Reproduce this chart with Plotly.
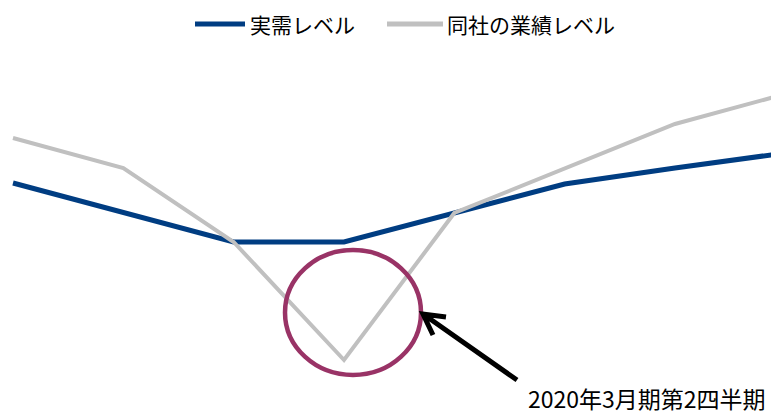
import plotly.graph_objects as go

# Data (arbitrary level units, higher = better)
periods = [0, 1, 2, 3, 4, 5, 6, 7]
demand_level = [231, 202, 172, 172, 201, 230, 246, 261]
company_level = [276, 246, 172, 54, 201, 246, 290, 320]
series_names = ["実需レベル", "同社の業績レベル"]
series_colors = ["#003D82", "#C0C0C0"]
callout_text = "2020年3月期第2四半期"

# page body has an 8px margin, so the figure is 8px smaller and offset
OFF = 8
W, H = 779 - OFF, 414 - OFF
FONT = "Noto Sans CJK JP, Noto Sans, sans-serif"

def px(x):
    return (x - OFF) / W

def py(y):
    return 1 - (y - OFF) / H

fig = go.Figure()
fig.add_trace(go.Scatter(x=periods, y=demand_level, mode="lines", name=series_names[0],
                         line=dict(color=series_colors[0], width=5), showlegend=False))
fig.add_trace(go.Scatter(x=periods, y=company_level, mode="lines", name=series_names[1],
                         line=dict(color=series_colors[1], width=4), showlegend=False))

# legend drawn as line swatches + text
legend_items = [(195, 245, 249), (387, 443, 446)]
for (x0, x1, tx), name, col in zip(legend_items, series_names, series_colors):
    fig.add_shape(type="line", xref="paper", yref="paper",
                  x0=px(x0), x1=px(x1), y0=py(24), y1=py(24),
                  line=dict(color=col, width=5))
    fig.add_annotation(text=name, xref="paper", yref="paper",
                       x=px(tx), y=1.0, xanchor="left", yanchor="top",
                       borderpad=0,
                       showarrow=False, font=dict(family=FONT, size=21, color="black"))

# highlight circle around the trough
fig.add_shape(type="circle", xref="paper", yref="paper",
              x0=px(285), x1=px(421), y0=py(375), y1=py(250),
              line=dict(color="#993366", width=4.5), layer="above")

# arrow: shaft + open chevron head
tip = (423, 314)
tail = (517, 380)
w1 = (446, 317)
w2 = (433, 335)
path = (f"M{px(tail[0])},{py(tail[1])} L{px(tip[0])},{py(tip[1])} "
        f"M{px(w1[0])},{py(w1[1])} L{px(tip[0])},{py(tip[1])} L{px(w2[0])},{py(w2[1])}")
fig.add_shape(type="path", xref="paper", yref="paper", path=path,
              line=dict(color="black", width=5))

fig.add_annotation(text=callout_text, xref="paper", yref="paper",
                   x=px(526), y=py(398), xanchor="left", yanchor="middle",
                   showarrow=False, font=dict(family=FONT, size=23, color="black"))

x_lo = (OFF - 13) / 110.33
x_hi = (779 - 13) / 110.33
fig.update_layout(
    width=W, height=H,
    margin=dict(l=0, r=0, t=0, b=0, pad=0, autoexpand=False),
    plot_bgcolor="white", paper_bgcolor="white",
    font=dict(family=FONT, color="black"),
    xaxis=dict(range=[x_lo, x_hi], visible=False, fixedrange=True),
    yaxis=dict(range=[0, 414 - OFF], visible=False, fixedrange=True),
    showlegend=False,
)

fig.write_html("out.html")
